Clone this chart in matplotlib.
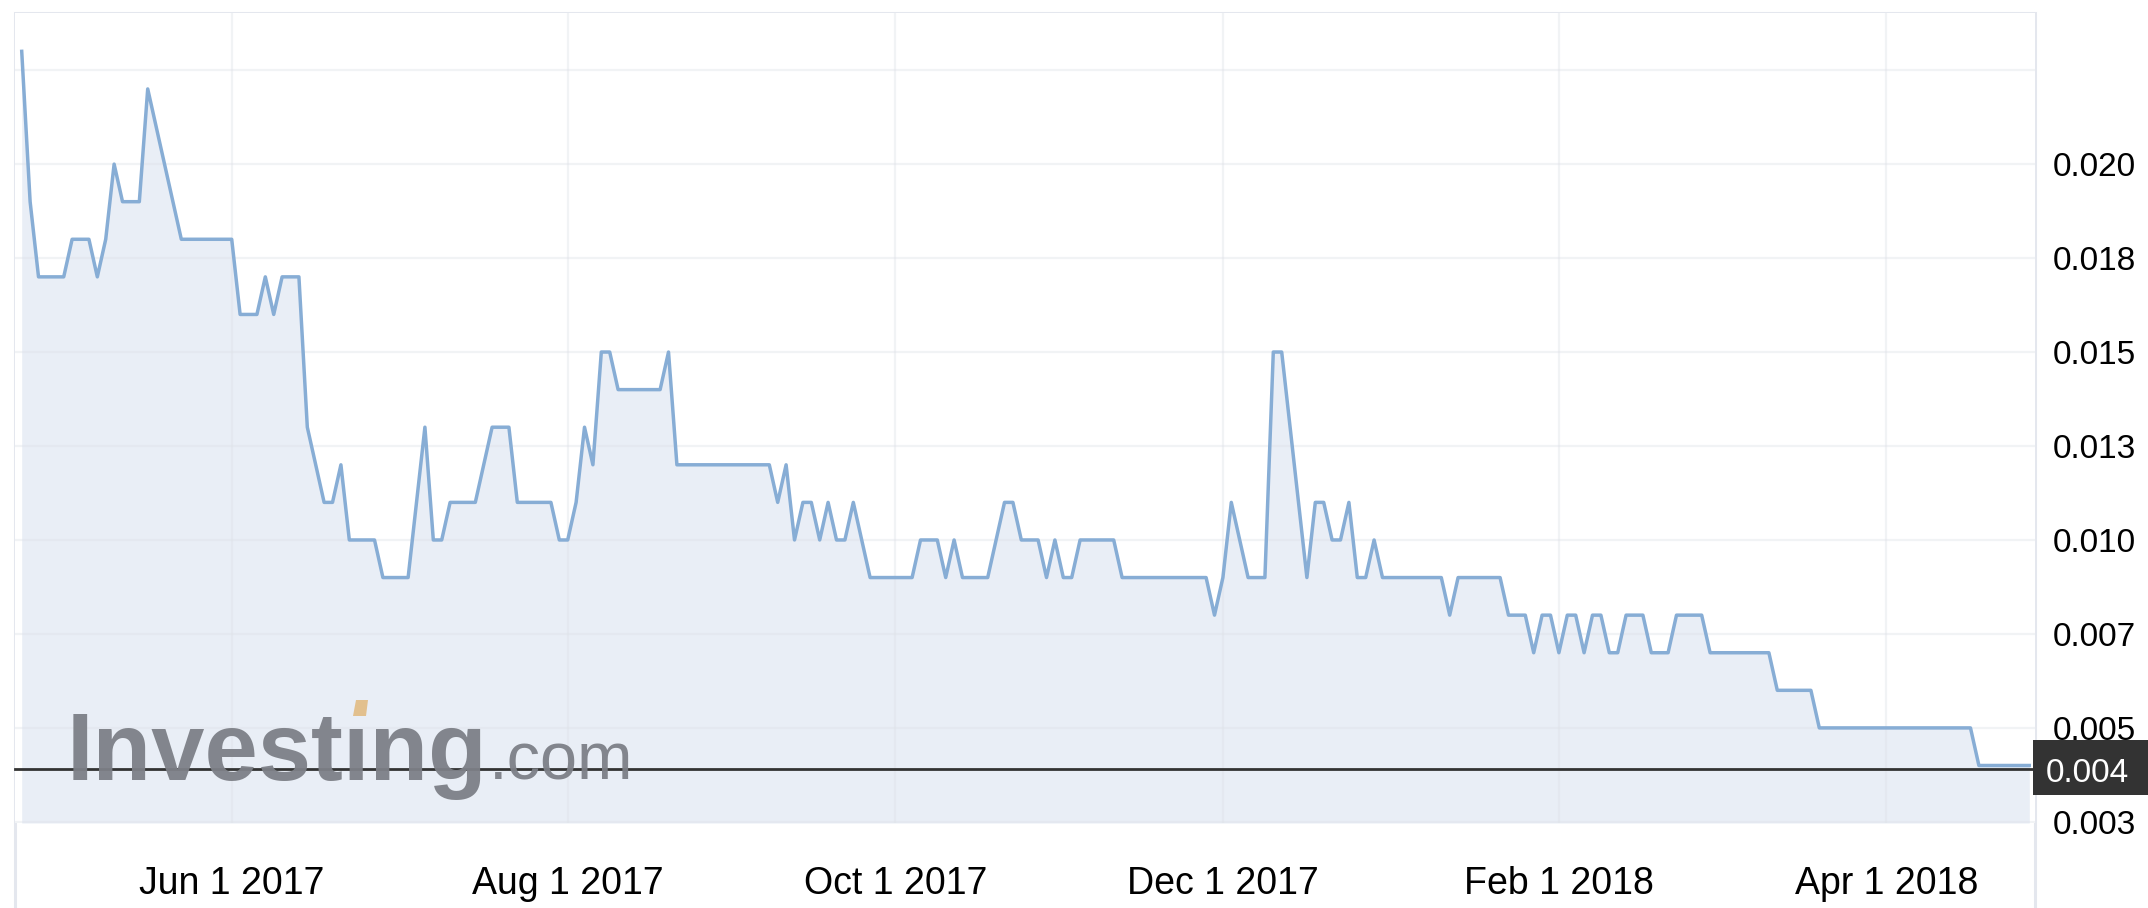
import matplotlib
matplotlib.use("Agg")
import matplotlib.pyplot as plt
from matplotlib.patches import Rectangle, Polygon
from matplotlib.transforms import blended_transform_factory
import numpy as np

plt.rcParams['font.family'] = ['Liberation Sans', 'DejaVu Sans']

# ---------------- data (daily closes, trading-day order) ----------------
prices = [
    0.023, 0.019, 0.017, 0.017, 0.017, 0.017, 0.018, 0.018, 0.018, 0.017,
    0.018, 0.020, 0.019, 0.019, 0.019, 0.022, 0.021, 0.020, 0.019, 0.018,
    0.018, 0.018, 0.018, 0.018, 0.018, 0.018, 0.016, 0.016, 0.016, 0.017,
    0.016, 0.017, 0.017, 0.017, 0.013, 0.012, 0.011, 0.011, 0.012, 0.010,
    0.010, 0.010, 0.010, 0.009, 0.009, 0.009, 0.009, 0.011, 0.013, 0.010,
    0.010, 0.011, 0.011, 0.011, 0.011, 0.012, 0.013, 0.013, 0.013, 0.011,
    0.011, 0.011, 0.011, 0.011, 0.010, 0.010, 0.011, 0.013, 0.012, 0.015,
    0.015, 0.014, 0.014, 0.014, 0.014, 0.014, 0.014, 0.015, 0.012, 0.012,
    0.012, 0.012, 0.012, 0.012, 0.012, 0.012, 0.012, 0.012, 0.012, 0.012,
    0.011, 0.012, 0.010, 0.011, 0.011, 0.010, 0.011, 0.010, 0.010, 0.011,
    0.010, 0.009, 0.009, 0.009, 0.009, 0.009, 0.009, 0.010, 0.010, 0.010,
    0.009, 0.010, 0.009, 0.009, 0.009, 0.009, 0.010, 0.011, 0.011, 0.010,
    0.010, 0.010, 0.009, 0.010, 0.009, 0.009, 0.010, 0.010, 0.010, 0.010,
    0.010, 0.009, 0.009, 0.009, 0.009, 0.009, 0.009, 0.009, 0.009, 0.009,
    0.009, 0.009, 0.008, 0.009, 0.011, 0.010, 0.009, 0.009, 0.009, 0.015,
    0.015, 0.013, 0.011, 0.009, 0.011, 0.011, 0.010, 0.010, 0.011, 0.009,
    0.009, 0.010, 0.009, 0.009, 0.009, 0.009, 0.009, 0.009, 0.009, 0.009,
    0.008, 0.009, 0.009, 0.009, 0.009, 0.009, 0.009, 0.008, 0.008, 0.008,
    0.007, 0.008, 0.008, 0.007, 0.008, 0.008, 0.007, 0.008, 0.008, 0.007,
    0.007, 0.008, 0.008, 0.008, 0.007, 0.007, 0.007, 0.008, 0.008, 0.008,
    0.008, 0.007, 0.007, 0.007, 0.007, 0.007, 0.007, 0.007, 0.007, 0.006,
    0.006, 0.006, 0.006, 0.006, 0.005, 0.005, 0.005, 0.005, 0.005, 0.005,
    0.005, 0.005, 0.005, 0.005, 0.005, 0.005, 0.005, 0.005, 0.005, 0.005,
    0.005, 0.005, 0.005, 0.004, 0.004, 0.004, 0.004, 0.004, 0.004, 0.004,
]
current_price = 0.0039

month_labels = ["Jun 1 2017", "Aug 1 2017", "Oct 1 2017",
                "Dec 1 2017", "Feb 1 2018", "Apr 1 2018"]
month_day_index = [25, 65, 104, 143, 183, 222]   # trading-day index of each month start

y_ticks = [0.0025, 0.005, 0.0075, 0.010, 0.0125, 0.015, 0.0175, 0.020, 0.0225]
y_tick_labels = ["0.003", "0.005", "0.007", "0.010", "0.013", "0.015", "0.018", "0.020", ""]

# ---------------- styling ----------------
W, H = 2148, 908
LINE_C = '#87add5'
FILL_C = '#e9eef6'
GRID_C = '#dde1e8'
FRAME_C = '#e4e7ee'
DARK = '#333333'

fig = plt.figure(figsize=(W / 100, H / 100), dpi=100)
fig.patch.set_facecolor('white')

# plot area in pixels: x 15..2035, y 13..823
ax = fig.add_axes([15 / W, 1 - 823 / H, (2035 - 15) / W, (823 - 13) / H])
ax.set_facecolor('white')

x = np.arange(len(prices))
ymin, ymax = 0.00247, 0.02402
ax.set_ylim(ymin, ymax)
ax.set_xlim(-0.8, len(prices) - 1 + 0.68)

ax.fill_between(x, prices, ymin, color=FILL_C, linewidth=0, zorder=1)
ax.plot(x, prices, color=LINE_C, linewidth=2.5, solid_joinstyle='round', zorder=3)

# current price line
ax.axhline(current_price, color=DARK, linewidth=2, zorder=4, clip_on=False)

# grid
ax.set_yticks(y_ticks)
ax.set_yticklabels(y_tick_labels)
ax.set_xticks(month_day_index)
ax.set_xticklabels(month_labels)
ax.grid(True, color=GRID_C, linewidth=1.6, alpha=0.4)
ax.yaxis.tick_right()
ax.tick_params(axis='y', length=0, pad=13, labelsize=24, colors='black')
ax.tick_params(axis='x', length=0, pad=31, labelsize=27, colors='black')
for s in ax.spines.values():
    s.set_visible(False)

# outer frame (extends below the x labels)
frame = Rectangle((15 / W, -0.05), (2035 - 15) / W, (H - 13) / H + 0.05,
                  transform=fig.transFigure, fill=False, edgecolor=FRAME_C,
                  linewidth=2.2, zorder=0)
fig.add_artist(frame)

# current price badge
def px_to_data(py):
    return ymin + (823 - py) / 810 * (ymax - ymin)

trans = blended_transform_factory(fig.transFigure, ax.transData)
box_h = px_to_data(741) - px_to_data(796)
badge = Rectangle((2033 / W, current_price - box_h / 2 + (px_to_data(768.5) - px_to_data(770))),
                  (W - 2033) / W, box_h, transform=trans, facecolor=DARK,
                  edgecolor='none', zorder=10, clip_on=False)
fig.add_artist(badge)
fig.text(2046 / W, 1 - 782 / H, f"{current_price:.3f}", color='white', fontsize=24,
         ha='left', va='baseline', zorder=11)

# Investing.com watermark
logo_c = '#7d8087'
t1 = fig.text(67 / W, 1 - 780 / H, "Invest\u0131ng", fontsize=69, fontweight='bold',
              color=logo_c, ha='left', va='baseline', zorder=2, alpha=0.95)
fig.canvas.draw()
bb = t1.get_window_extent()
fig.text((bb.x1 + 1) / W, 1 - 780 / H, ".com", fontsize=48, color=logo_c,
         ha='left', va='baseline', zorder=2, alpha=0.95)
acc = Polygon([[353 / W, 1 - 716 / H], [366 / W, 1 - 716 / H],
               [368 / W, 1 - 700 / H], [356 / W, 1 - 700 / H]],
              closed=True, transform=fig.transFigure, facecolor='#e2c08e',
              edgecolor='none', zorder=2)
fig.add_artist(acc)

fig.savefig("out.png", dpi=100, facecolor='white')
